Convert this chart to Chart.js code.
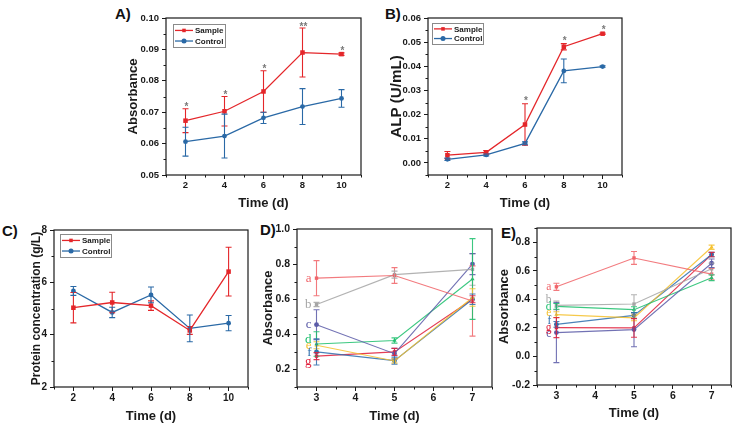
<!DOCTYPE html>
<html>
<head>
<meta charset="utf-8">
<script src="https://cdn.jsdelivr.net/npm/chart.js@4.4.0/dist/chart.umd.min.js"></script>
<style>
  body { margin: 0; background: #fff; width: 738px; height: 431px; position: relative; overflow: hidden; }
  canvas { position: absolute; }
  .tag { position: absolute; font: bold 15px "Liberation Sans", Arial, sans-serif; line-height: 15px; color: #111; }
</style>
</head>
<body>
<div class="tag" style="left:115px;top:6px">A)</div>
<div class="tag" style="left:385px;top:6px">B)</div>
<div class="tag" style="left:2px;top:223px">C)</div>
<div class="tag" style="left:260px;top:222px">D)</div>
<div class="tag" style="left:501px;top:225px">E)</div>
<script>
// ---- data ----
const days = [2, 4, 6, 8, 10];
const dayTicks = [2, 4, 6, 8, 10];

const absSample = [0.0673, 0.0703, 0.0766, 0.0890, 0.0885];
const absSampleErr = [0.0038, 0.0047, 0.0066, 0.0078, 0.0004];
const absControl = [0.0606, 0.0624, 0.0682, 0.0718, 0.0744];
const absControlErr = [0.0046, 0.0070, 0.0018, 0.0057, 0.0028];
const absStars = ['*', '*', '*', '**', '*'];
const absTicks = [0.05, 0.06, 0.07, 0.08, 0.09, 0.10];

const alpSample = [0.0032, 0.0044, 0.0159, 0.0481, 0.0535];
const alpSampleErr = [0.0015, 0.0007, 0.0086, 0.0013, 0.0003];
const alpControl = [0.0015, 0.0033, 0.0081, 0.0381, 0.0399];
const alpControlErr = [0.0005, 0.0004, 0.0006, 0.0049, 0.0003];
const alpStars = ['', '', '*', '*', '*'];
const alpTicks = [0.00, 0.01, 0.02, 0.03, 0.04, 0.05, 0.06];

const protSample = [5.03, 5.23, 5.11, 4.16, 6.41];
const protSampleErr = [0.58, 0.39, 0.18, 0.15, 0.93];
const protControl = [5.67, 4.85, 5.52, 4.24, 4.44];
const protControlErr = [0.17, 0.20, 0.30, 0.51, 0.29];
const protTicks = [2, 4, 6, 8];

const groupDays = [3, 5, 7];
const groupTicks = [3, 4, 5, 6, 7];
const groupNames = ['a', 'b', 'c', 'd', 'e', 'f', 'g'];

const dValues = [
  [0.72, 0.735, 0.59],
  [0.57, 0.74, 0.77],
  [0.455, 0.29, 0.80],
  [0.345, 0.365, 0.715],
  [0.338, 0.248, 0.61],
  [0.30, 0.25, 0.60],
  [0.276, 0.30, 0.60]
];
const dErrors = [
  [0.10, 0.045, 0.20],
  [0.012, 0.02, 0.09],
  [0.085, 0.03, 0.06],
  [0.07, 0.015, 0.23],
  [0.02, 0.012, 0.05],
  [0.075, 0.02, 0.03],
  [0.02, 0.02, 0.02]
];
const dTicks = [0.2, 0.4, 0.6, 0.8, 1.0];

const eValues = [
  [0.488, 0.69, 0.577],
  [0.358, 0.367, 0.614],
  [0.167, 0.188, 0.653],
  [0.351, 0.328, 0.551],
  [0.293, 0.27, 0.765],
  [0.225, 0.288, 0.714],
  [0.202, 0.20, 0.714]
];
const eErrors = [
  [0.025, 0.045, 0.04],
  [0.03, 0.065, 0.04],
  [0.21, 0.12, 0.03],
  [0.02, 0.02, 0.02],
  [0.02, 0.02, 0.015],
  [0.02, 0.02, 0.015],
  [0.07, 0.065, 0.015]
];
const eTicks = [-0.2, 0.0, 0.2, 0.4, 0.6, 0.8];

// ---- styles ----
const RED = '#e4262a';
const BLUE = '#2a69a6';
const groupColors = ['#f0656a', '#a6a6a6', '#5c5ca8', '#1ebf6e', '#f5c12e', '#2f6fae', '#e0203c'];
const groupMarkers = ['rect', 'rect', 'circle', 'triangle', 'triangle', 'circle', 'rect'];
const SANS = '"Liberation Sans", Arial, sans-serif';
const INK = '#1a1a1a';

// ---- plugins ----
const frame = {
  id: 'frame',
  afterDraw(chart) {
    const { ctx, chartArea: a } = chart;
    ctx.save();
    ctx.strokeStyle = INK;
    ctx.lineWidth = 1.2;
    ctx.strokeRect(a.left, a.top, a.right - a.left, a.bottom - a.top);
    ctx.restore();
  }
};

const minorTicks = {
  id: 'minorTicks',
  afterDraw(chart) {
    const ctx = chart.ctx;
    ['x', 'y'].forEach(id => {
      const s = chart.scales[id];
      const vals = s.ticks.map(t => t.value);
      const half = (vals[1] - vals[0]) / 2;
      ctx.save();
      ctx.strokeStyle = INK;
      ctx.lineWidth = 1;
      for (let k = -1; k < vals.length; k++) {
        const v = vals[0] + half * (2 * k + 1);
        if (v < s.min - 1e-9 || v > s.max + 1e-9) continue;
        const p = Math.round(s.getPixelForValue(v)) + 0.5;
        ctx.beginPath();
        if (id === 'x') { ctx.moveTo(p, s.top); ctx.lineTo(p, s.top + 2.5); }
        else { ctx.moveTo(s.right, p); ctx.lineTo(s.right - 2.5, p); }
        ctx.stroke();
      }
      ctx.restore();
    });
  }
};

const errorBars = {
  id: 'errorBars',
  afterDatasetsDraw(chart) {
    const ctx = chart.ctx;
    const y = chart.scales.y;
    chart.data.datasets.forEach((ds, i) => {
      if (!ds.errors) return;
      const meta = chart.getDatasetMeta(i);
      ctx.save();
      ctx.strokeStyle = ds.borderColor;
      ctx.lineWidth = 1.1;
      meta.data.forEach((pt, j) => {
        const v = ds.data[j].y, e = ds.errors[j];
        const top = y.getPixelForValue(v + e);
        const bot = y.getPixelForValue(v - e);
        ctx.beginPath();
        ctx.moveTo(pt.x, top); ctx.lineTo(pt.x, bot);
        ctx.moveTo(pt.x - 3, top); ctx.lineTo(pt.x + 3, top);
        ctx.moveTo(pt.x - 3, bot); ctx.lineTo(pt.x + 3, bot);
        ctx.stroke();
      });
      ctx.restore();
    });
  }
};

const stars = {
  id: 'stars',
  afterDatasetsDraw(chart, args, opts) {
    if (!opts.marks) return;
    const ctx = chart.ctx;
    const y = chart.scales.y;
    const ds = chart.data.datasets[0];
    const meta = chart.getDatasetMeta(0);
    ctx.save();
    ctx.fillStyle = '#7a7a7a';
    ctx.font = 'bold 10px ' + SANS;
    ctx.textAlign = 'center';
    ctx.textBaseline = 'alphabetic';
    opts.marks.forEach((m, j) => {
      if (!m) return;
      const top = y.getPixelForValue(ds.data[j].y + ds.errors[j]);
      ctx.fillText(m, meta.data[j].x + 1, top - opts.gap + 5.5);
    });
    ctx.restore();
  }
};

const boxLegend = {
  id: 'boxLegend',
  afterDraw(chart, args, opts) {
    if (!opts.w) return;
    const ctx = chart.ctx;
    const a = chart.chartArea;
    const x = a.left + opts.dx, y = a.top + opts.dy;
    ctx.save();
    ctx.strokeStyle = '#8a8a8a';
    ctx.lineWidth = 1;
    ctx.strokeRect(x + 0.5, y + 0.5, opts.w, opts.h);
    ctx.font = 'bold 8px ' + SANS;
    ctx.textBaseline = 'middle';
    ctx.fillStyle = INK;
    chart.data.datasets.forEach((ds, i) => {
      const ry = y + opts.h * (0.28 + 0.46 * i);
      ctx.strokeStyle = ds.borderColor;
      ctx.lineWidth = 1.3;
      ctx.beginPath();
      ctx.moveTo(x + 2, ry); ctx.lineTo(x + 20, ry);
      ctx.stroke();
      ctx.fillStyle = ds.borderColor;
      Chart.helpers.drawPoint(ctx, { pointStyle: ds.pointStyle, radius: 2.5, rotation: 0, borderWidth: 0 }, x + 11, ry);
      ctx.fillStyle = INK;
      ctx.fillText(ds.label, x + 22, ry + 0.5);
    });
    ctx.restore();
  }
};

const letters = {
  id: 'letters',
  afterDatasetsDraw(chart, args, opts) {
    if (!opts.names) return;
    const ctx = chart.ctx;
    ctx.save();
    ctx.font = opts.size + 'px "Liberation Serif", "Times New Roman", serif';
    ctx.textAlign = 'right';
    ctx.textBaseline = 'middle';
    chart.data.datasets.forEach((ds, i) => {
      const pt = chart.getDatasetMeta(i).data[0];
      ctx.fillStyle = opts.colors[i];
      ctx.fillText(opts.names[i], pt.x - 5, pt.y + (opts.nudge[i] || 0));
    });
    ctx.restore();
  }
};

// ---- builder ----
function pairs(xs, ys) {
  return xs.map((x, i) => ({ x: x, y: ys[i] }));
}

function panel(box, area, o) {
  const cv = document.createElement('canvas');
  cv.width = box.w;
  cv.height = box.h;
  cv.style.left = box.x + 'px';
  cv.style.top = box.y + 'px';
  document.body.appendChild(cv);

  const tickFont = { family: SANS, weight: 'bold', size: o.tickSize };
  new Chart(cv, {
    type: 'line',
    data: { datasets: o.datasets },
    options: {
      responsive: false,
      animation: false,
      layout: { padding: { left: 0, top: area.t - box.y, right: box.x + box.w - area.r, bottom: 0 } },
      plugins: Object.assign({ legend: { display: false }, tooltip: { enabled: false } }, o.plugins),
      scales: {
        x: {
          type: 'linear',
          min: o.xMin,
          max: o.xMax,
          afterBuildTicks: s => { s.ticks = o.xTicks.map(v => ({ value: v })); },
          afterFit: s => { s.height = box.y + box.h - area.b; },
          border: { display: false },
          grid: { drawOnChartArea: false, tickLength: 4, color: INK, lineWidth: 1 },
          ticks: { font: tickFont, color: INK, padding: 1, maxRotation: 0, callback: v => String(v) },
          title: {
            display: true, text: 'Time (d)', color: INK,
            font: { family: SANS, weight: 'bold', size: 13 },
            padding: { top: 0, bottom: o.xTitlePad }
          }
        },
        y: {
          type: 'linear',
          min: o.yMin,
          max: o.yMax,
          afterBuildTicks: s => { s.ticks = o.yTicks.map(v => ({ value: v })); },
          afterFit: s => { s.width = area.l - box.x; },
          border: { display: false },
          grid: { drawOnChartArea: false, tickLength: 4, color: INK, lineWidth: 1 },
          ticks: { font: tickFont, color: INK, padding: 3, callback: v => v.toFixed(o.yDec) },
          title: {
            display: true, text: o.yTitle, color: INK,
            font: { family: SANS, weight: 'bold', size: o.yTitleSize },
            padding: { top: o.yTitlePad, bottom: 0 }
          }
        }
      }
    },
    plugins: [frame, minorTicks, errorBars, stars, boxLegend, letters]
  });
}

function twoSeries(sample, sampleErr, control, controlErr) {
  return [
    { label: 'Sample', data: pairs(days, sample), errors: sampleErr, borderColor: RED, backgroundColor: RED,
      pointStyle: 'rect', pointRadius: 3.2, pointBorderWidth: 0, borderWidth: 1.3 },
    { label: 'Control', data: pairs(days, control), errors: controlErr, borderColor: BLUE, backgroundColor: BLUE,
      pointStyle: 'circle', pointRadius: 2.4, pointBorderWidth: 0, borderWidth: 1.3 }
  ];
}

function groupSeries(values, errors) {
  return groupNames.map((n, i) => ({
    label: n, data: pairs(groupDays, values[i]), errors: errors[i],
    borderColor: groupColors[i] + 'dd', backgroundColor: groupColors[i],
    pointStyle: groupMarkers[i], pointRadius: 2.4, pointBorderWidth: 0, borderWidth: 1.1
  }));
}

// A
panel({ x: 100, y: 0, w: 272, h: 215 }, { l: 166, t: 18, r: 361, b: 175 }, {
  datasets: twoSeries(absSample, absSampleErr, absControl, absControlErr),
  xMin: 1, xMax: 11, xTicks: dayTicks, yMin: 0.05, yMax: 0.10, yTicks: absTicks, yDec: 2,
  yTitle: 'Absorbance', yTitleSize: 13.2, yTitlePad: 25, xTitlePad: 4, tickSize: 9.5,
  plugins: { stars: { marks: absStars, gap: 4 }, boxLegend: { dx: 7, dy: 6, w: 52, h: 23 } }
});

// B
panel({ x: 370, y: 0, w: 262, h: 215 }, { l: 428, t: 18, r: 622, b: 175 }, {
  datasets: twoSeries(alpSample, alpSampleErr, alpControl, alpControlErr),
  xMin: 1, xMax: 11, xTicks: dayTicks, yMin: -0.005, yMax: 0.06, yTicks: alpTicks, yDec: 2,
  yTitle: 'ALP (U/mL)', yTitleSize: 15.2, yTitlePad: 17.5, xTitlePad: 4, tickSize: 9.5,
  plugins: { stars: { marks: alpStars, gap: 5.5 }, boxLegend: { dx: 4, dy: 5, w: 51, h: 21 } }
});

// C
panel({ x: 0, y: 215, w: 254, h: 216 }, { l: 54, t: 230, r: 248, b: 387 }, {
  datasets: twoSeries(protSample, protSampleErr, protControl, protControlErr),
  xMin: 1, xMax: 11, xTicks: dayTicks, yMin: 2, yMax: 8, yTicks: protTicks, yDec: 0,
  yTitle: 'Protein concentration (g/L)', yTitleSize: 12, yTitlePad: 29.5, xTitlePad: 7, tickSize: 10,
  plugins: { boxLegend: { dx: 6, dy: 4, w: 51, h: 23 } }
});

// D
panel({ x: 250, y: 215, w: 246, h: 216 }, { l: 297, t: 229, r: 492, b: 387 }, {
  datasets: groupSeries(dValues, dErrors),
  xMin: 2.5, xMax: 7.5, xTicks: groupTicks, yMin: 0.1, yMax: 1.0, yTicks: dTicks, yDec: 1,
  yTitle: 'Absorbance', yTitleSize: 13, yTitlePad: 10.5, xTitlePad: 7, tickSize: 10.5,
  plugins: { letters: { names: groupNames, colors: groupColors, size: 13, nudge: [0, 0, 0, -4, 0, 1, 5] } }
});

// E
panel({ x: 490, y: 215, w: 246, h: 216 }, { l: 537, t: 228, r: 731, b: 385 }, {
  datasets: groupSeries(eValues, eErrors),
  xMin: 2.5, xMax: 7.5, xTicks: groupTicks, yMin: -0.2, yMax: 0.9, yTicks: eTicks, yDec: 1,
  yTitle: 'Absorbance', yTitleSize: 13, yTitlePad: 7, xTitlePad: 10, tickSize: 10.5,
  plugins: { letters: { names: groupNames, colors: groupColors, size: 11.5, nudge: [0, -5, 1, 1, -2, -3, 0] } }
});
</script>
</body>
</html>
